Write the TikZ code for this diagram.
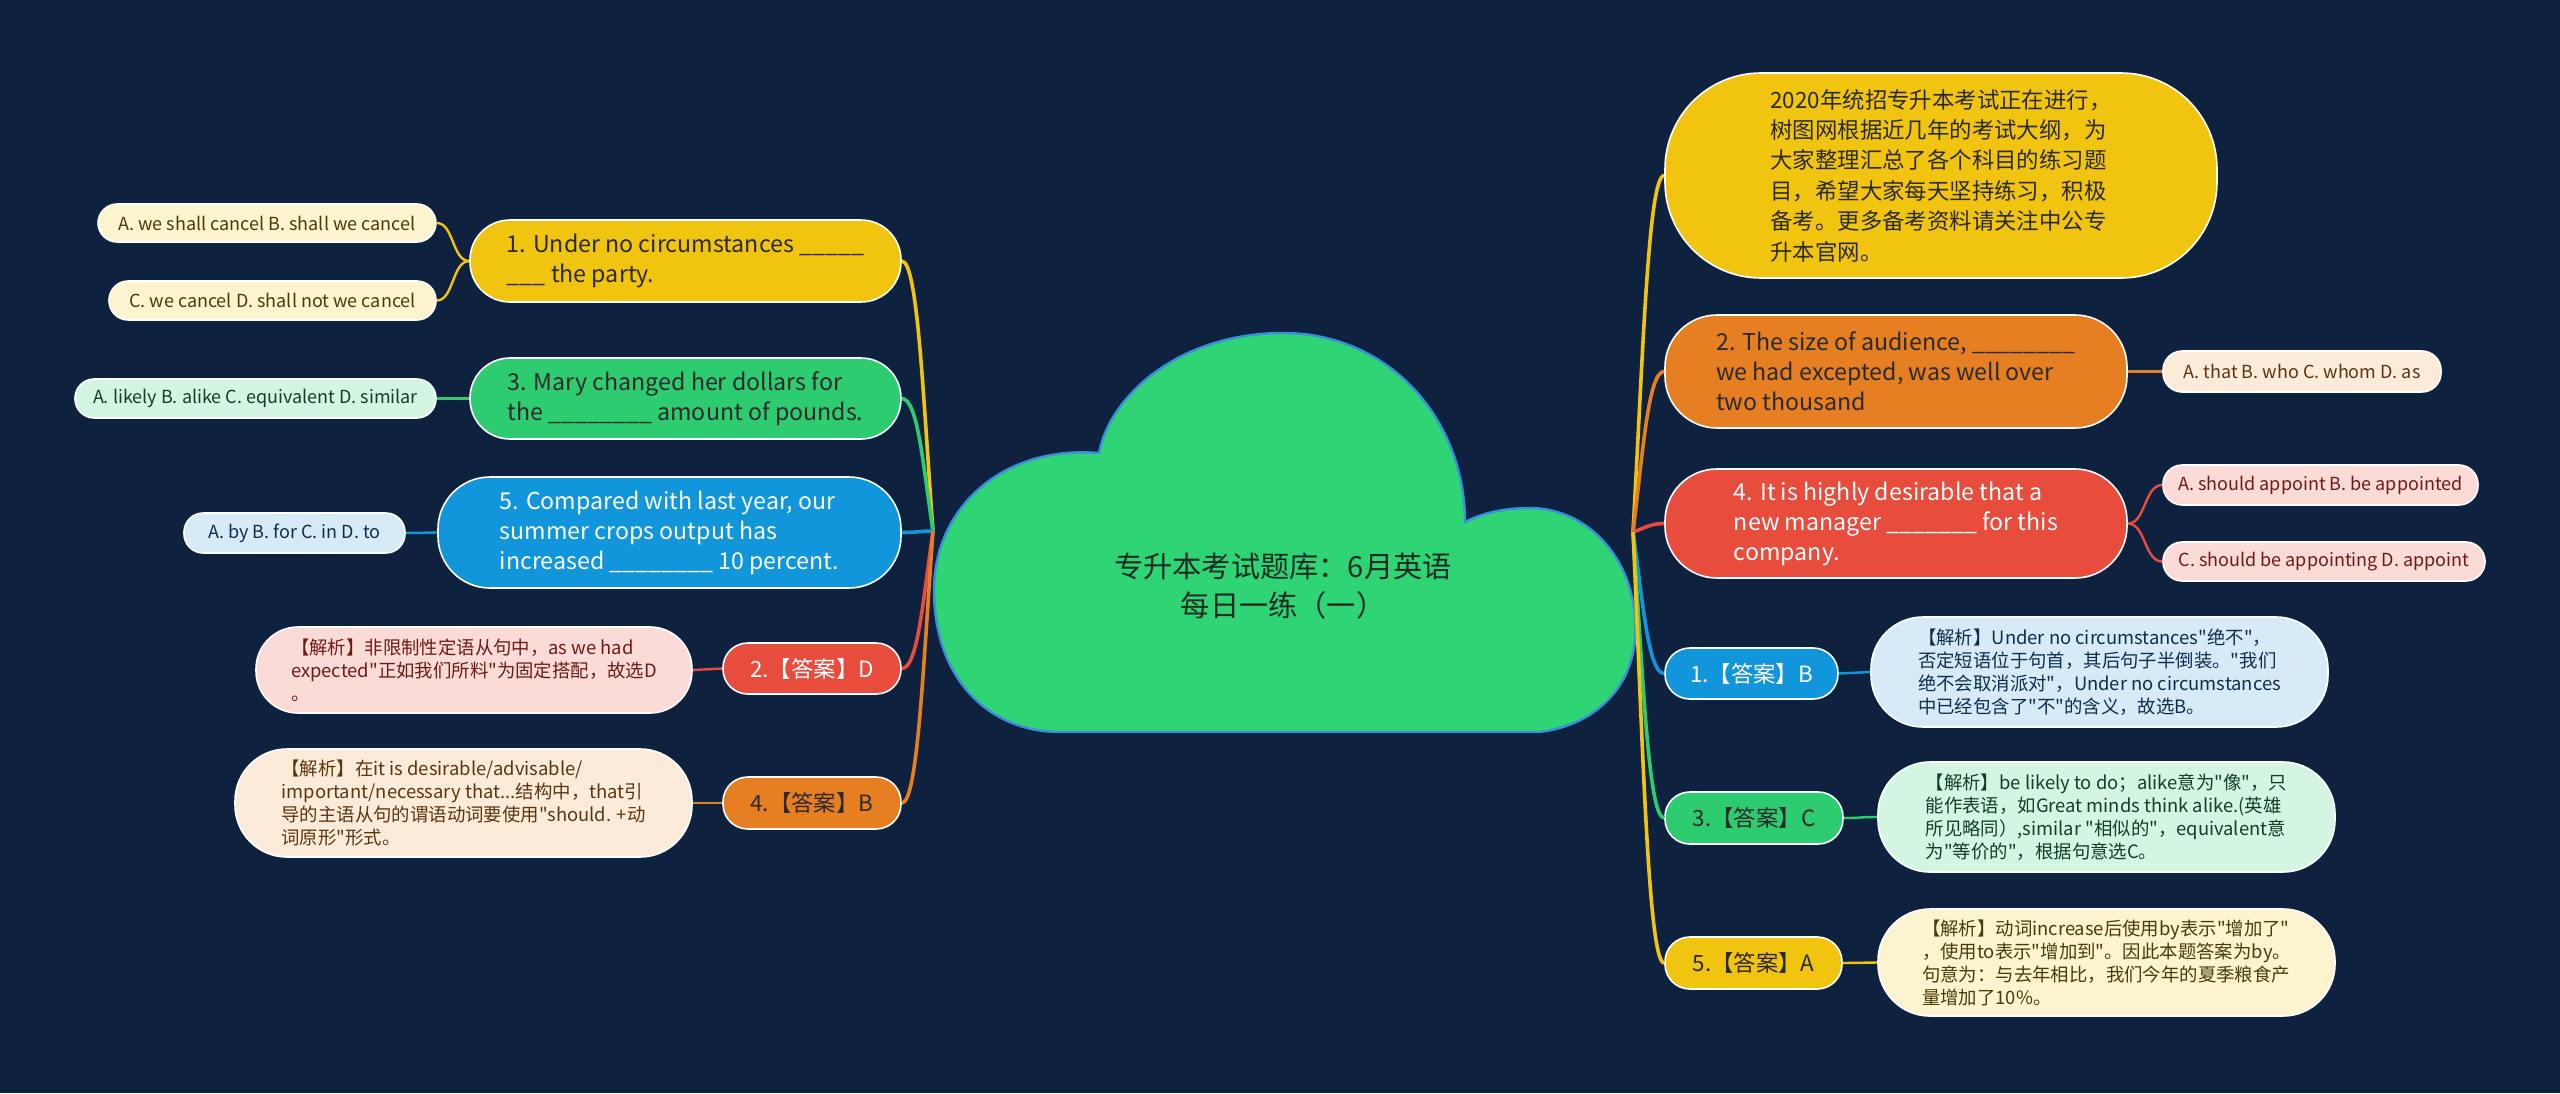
\documentclass[tikz,border=0pt]{standalone}
\usepackage{fontspec}
\setmainfont{Noto Sans CJK SC}[Ligatures=TeXOff]
\definecolor{bgnavy}{HTML}{0E223F}
\definecolor{cyellow}{HTML}{F1C40F}
\definecolor{corange}{HTML}{E67E22}
\definecolor{cred}{HTML}{E74C3C}
\definecolor{cblue}{HTML}{1296DB}
\definecolor{cgreen}{HTML}{2ECC71}
\definecolor{cloudgreen}{HTML}{2FD574}
\definecolor{cloudline}{HTML}{3A8EDB}
\definecolor{pyellow}{HTML}{FCF3CF}
\definecolor{porange}{HTML}{FDEBD9}
\definecolor{pred}{HTML}{FADBD8}
\definecolor{pblue}{HTML}{D6EAF8}
\definecolor{pgreen}{HTML}{D5F5E3}
\definecolor{inkdark}{HTML}{2A2A2A}
\definecolor{inkyellow}{HTML}{4A3C08}
\definecolor{inkorange}{HTML}{5C3510}
\definecolor{inkred}{HTML}{6E1B14}
\definecolor{inkblue}{HTML}{0D2F4D}
\definecolor{inkgreen}{HTML}{123F26}
\definecolor{titleink}{HTML}{1D2B24}
\tikzset{
  box/.style={draw=white, line width=0.4pt, inner sep=1pt, align=left},
  topic/.style 2 args={box, fill=#1, text=#2, rounded corners=10pt, font=\fontsize{5.8}{7.5}\selectfont},
  choice/.style 2 args={box, fill=#1, text=#2, rounded corners=4.8pt, font=\fontsize{4.5}{5.5}\selectfont},
  answer/.style 2 args={box, fill=#1, text=#2, rounded corners=6.2pt, font=\fontsize{5.6}{7}\selectfont},
  remark/.style 2 args={box, fill=#1, text=#2, rounded corners=13pt, font=\fontsize{4.6}{5.75}\selectfont},
  twig/.style={draw=#1, line width=0.9pt},
  leaf/.style={draw=#1, line width=0.6pt}
}
\begin{document}
\begin{tikzpicture}[x=0.25pt,y=-0.25pt]
\path[use as bounding box] (0,0) rectangle (2560,1093);
\fill[bgnavy] (0,0) rectangle (2560,1093);
% root cloud
\draw[fill=cloudgreen, draw=cloudline, line width=0.6pt] (1060,732) -- (1539,732)
  .. controls (1600,725) and (1640,680) .. (1635,620)
  .. controls (1632,555) and (1585,508) .. (1530,508)
  .. controls (1500,508) and (1478,515) .. (1465,522)
  .. controls (1465,420) and (1390,333) .. (1283,333)
  .. controls (1180,333) and (1110,395) .. (1099,453)
  .. controls (1000,445) and (934,510) .. (934,590)
  .. controls (934,680) and (990,732) .. (1060,732) -- cycle;
\node[align=center, text=titleink, font=\fontsize{7.3}{9.6}\selectfont] (title) at (1283,586) {专升本考试题库：6月英语\\每日一练（一）};
\coordinate (rootL) at (933,531);
\coordinate (rootR) at (1633,532);
% right side
\node[topic={cyellow}{inkdark}, rounded corners=24pt, minimum width=138pt, minimum height=51.25pt, font=\fontsize{5.6}{7.6}\selectfont] (intro) at (1941,175.5) {2020年统招专升本考试正在进行，\\树图网根据近几年的考试大纲，为\\大家整理汇总了各个科目的练习题\\目，希望大家每天坚持练习，积极\\备考。更多备考资料请关注中公专\\升本官网。};
\node[topic={corange}{inkdark}, rounded corners=13pt, minimum width=115.5pt, minimum height=28.25pt] (q2) at (1896,371.5) {2. The size of audience, \_\_\_\_\_\_\_\_\\ we had excepted, was well over\\two thousand};
\node[choice={porange}{inkorange}, minimum width=69.5pt, minimum height=10.25pt] (q2opt) at (2302,371.5) {A. that B. who C. whom D. as};
\node[topic={cred}{white}, rounded corners=13pt, minimum width=115.5pt, minimum height=27.25pt] (q4) at (1896,523.5) {4. It is highly desirable that a\\new manager \_\_\_\_\_\_\_ for this\\company.};
\node[choice={pred}{inkred}, minimum width=78.75pt, minimum height=10pt] (q4a) at (2320.5,485) {A. should appoint B. be appointed};
\node[choice={pred}{inkred}, minimum width=80.5pt, minimum height=9.75pt] (q4c) at (2324,561.5) {C. should be appointing D. appoint};
\node[answer={cblue}{white}, minimum width=43.25pt, minimum height=12.75pt] (ans1) at (1751.5,673.5) {1.【答案】B};
\node[remark={pblue}{inkblue}, minimum width=114.25pt, minimum height=27.5pt] (note1) at (2099.5,672) {【解析】Under no circumstances"绝不"，\\否定短语位于句首，其后句子半倒装。"我们\\绝不会取消派对"，Under no circumstances\\中已经包含了"不"的含义，故选B。};
\node[answer={cgreen}{inkdark}, minimum width=44.5pt, minimum height=13pt] (ans3) at (1754,818) {3.【答案】C};
\node[remark={pgreen}{inkgreen}, minimum width=114.25pt, minimum height=27.5pt] (note3) at (2106.5,817) {【解析】be likely to do；alike意为"像"，只\\能作表语，如Great minds think alike.(英雄\\所见略同）,similar "相似的"，equivalent意\\为"等价的"，根据句意选C。};
\node[answer={cyellow}{inkdark}, minimum width=44.25pt, minimum height=13pt] (ans5) at (1753.5,963) {5.【答案】A};
\node[remark={pyellow}{inkyellow}, minimum width=114.25pt, minimum height=26.75pt] (note5) at (2106.5,962.5) {【解析】动词increase后使用by表示"增加了"\\，使用to表示"增加到"。因此本题答案为by。\\句意为：与去年相比，我们今年的夏季粮食产\\量增加了10\%。};
% left side
\node[topic={cyellow}{inkdark}, minimum width=107.75pt, minimum height=20.5pt] (q1) at (685.5,261) {1. Under no circumstances \_\_\_\_\_\\\_\_\_ the party.};
\node[choice={pyellow}{inkyellow}, minimum width=84.5pt, minimum height=9.5pt] (q1a) at (267,223) {A. we shall cancel B. shall we cancel};
\node[choice={pyellow}{inkyellow}, minimum width=81.75pt, minimum height=9.75pt] (q1c) at (272.5,300.5) {C. we cancel D. shall not we cancel};
\node[topic={cgreen}{inkdark}, minimum width=107.75pt, minimum height=20.25pt] (q3) at (685.5,398.5) {3. Mary changed her dollars for\\the \_\_\_\_\_\_\_\_ amount of pounds.};
\node[choice={pgreen}{inkgreen}, minimum width=90.25pt, minimum height=9.75pt] (q3opt) at (255.5,398.5) {A. likely B. alike C. equivalent D. similar};
\node[topic={cblue}{white}, rounded corners=13pt, minimum width=115.75pt, minimum height=27.75pt] (q5) at (669.5,532.5) {5. Compared with last year, our\\summer crops output has\\increased \_\_\_\_\_\_\_\_ 10 percent.};
\node[choice={pblue}{inkblue}, minimum width=55.25pt, minimum height=10pt] (q5opt) at (294.5,533) {A. by B. for C. in D. to};
\node[answer={cred}{white}, minimum width=44.5pt, minimum height=12.75pt] (ans2) at (812,668.5) {2.【答案】D};
\node[remark={pred}{inkred}, rounded corners=10.5pt, minimum width=109pt, minimum height=21.5pt] (note2) at (474,670) {【解析】非限制性定语从句中，as we had\\expected"正如我们所料"为固定搭配，故选D\\。};
\node[answer={corange}{inkdark}, minimum width=44.5pt, minimum height=13pt] (ans4) at (812,803) {4.【答案】B};
\node[remark={porange}{inkorange}, minimum width=114.25pt, minimum height=27pt] (note4) at (463.5,803) {【解析】在it is desirable/advisable/\\important/necessary that...结构中，that引\\导的主语从句的谓语动词要使用"should. +动\\词原形"形式。};
% branches
\draw[twig=cyellow] (rootR) .. controls +(10,-178) and +(-16,0) .. (intro.west);
\draw[twig=corange] (rootR) .. controls +(10,-80) and +(-16,0) .. (q2.west);
\draw[twig=cred] (rootR) .. controls +(12,-4) and +(-14,0) .. (q4.west);
\draw[twig=cblue] (rootR) .. controls +(10,70) and +(-16,0) .. (ans1.west);
\draw[twig=cgreen] (rootR) .. controls +(10,143) and +(-16,0) .. (ans3.west);
\draw[twig=cyellow] (rootR) .. controls +(10,215) and +(-16,0) .. (ans5.west);
\draw[twig=cyellow] (rootL) .. controls +(-10,-135) and +(16,0) .. (q1.east);
\draw[twig=cgreen] (rootL) .. controls +(-10,-66) and +(16,0) .. (q3.east);
\draw[twig=cblue] (rootL) .. controls +(-12,0) and +(14,0) .. (q5.east);
\draw[twig=cred] (rootL) .. controls +(-10,69) and +(16,0) .. (ans2.east);
\draw[twig=corange] (rootL) .. controls +(-10,136) and +(16,0) .. (ans4.east);
% leaves
\draw[leaf=corange] (q2.east) .. controls +(18,0) and +(-18,0) .. (q2opt.west);
\draw[leaf=cred] (q4.east) .. controls +(18,0) and +(-18,0) .. (q4a.west);
\draw[leaf=cred] (q4.east) .. controls +(18,0) and +(-18,0) .. (q4c.west);
\draw[leaf=cblue] (ans1.east) .. controls +(16,0) and +(-16,0) .. (note1.west);
\draw[leaf=cgreen] (ans3.east) .. controls +(18,0) and +(-18,0) .. (note3.west);
\draw[leaf=cyellow] (ans5.east) .. controls +(18,0) and +(-18,0) .. (note5.west);
\draw[leaf=cyellow] (q1.west) .. controls +(-17,0) and +(17,0) .. (q1a.east);
\draw[leaf=cyellow] (q1.west) .. controls +(-17,0) and +(17,0) .. (q1c.east);
\draw[leaf=cgreen] (q3.west) .. controls +(-17,0) and +(17,0) .. (q3opt.east);
\draw[leaf=cblue] (q5.west) .. controls +(-16,0) and +(16,0) .. (q5opt.east);
\draw[leaf=cred] (ans2.west) .. controls +(-15,0) and +(15,0) .. (note2.east);
\draw[leaf=corange] (ans4.west) .. controls +(-15,0) and +(15,0) .. (note4.east);
\end{tikzpicture}
\end{document}
